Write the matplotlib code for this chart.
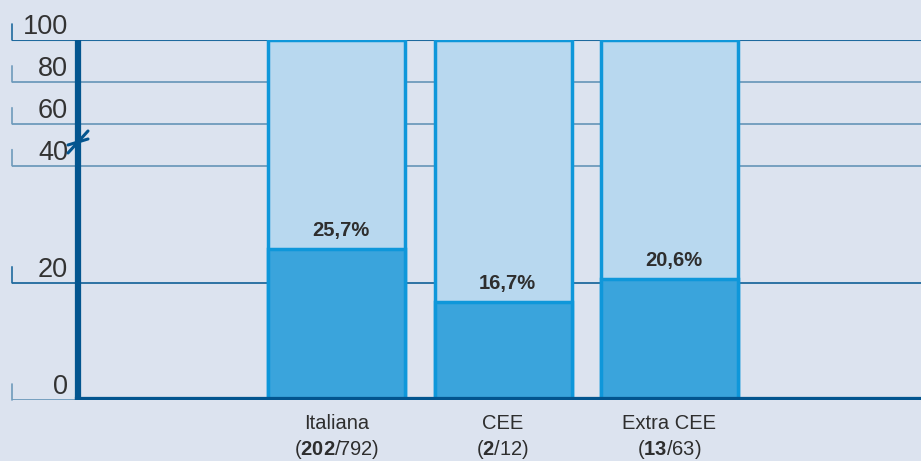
import numpy as np
import matplotlib
matplotlib.use("Agg")
import matplotlib.pyplot as plt

# --- data ---
categories = ["Italiana", "CEE", "Extra CEE"]
numerators = [202, 2, 13]
denominators = [792, 12, 63]
percent = [25.7, 16.7, 20.6]
pct_labels = ["25,7%", "16,7%", "20,6%"]
y_ticks = [0, 20, 40, 60, 80, 100]

BG = "#dce3ef"
LIGHT = "#b8d8ef"
DARK = "#3aa4dc"
EDGE = "#0e97da"
AXIS = "#03558f"
GRID = "#6e9abb"
GRID_DARK = "#1f6a9e"
TEXT = "#2e2e2e"

plt.rcParams["font.family"] = ["Liberation Sans", "DejaVu Sans"]
plt.rcParams["mathtext.fontset"] = "custom"
plt.rcParams["mathtext.rm"] = "Liberation Sans"
plt.rcParams["mathtext.bf"] = "Liberation Sans:bold"

# broken axis: 0-40 linear, 40-100 compressed
BREAK = 40.0
SQUEEZE = 42.0 / 117.5


def fwd(y):
    y = np.asarray(y, dtype=float)
    return np.where(y <= BREAK, y, BREAK + (y - BREAK) * SQUEEZE)


def inv(y):
    y = np.asarray(y, dtype=float)
    return np.where(y <= BREAK, y, BREAK + (y - BREAK) / SQUEEZE)


W, H = 921, 461
fig = plt.figure(figsize=(W / 100, H / 100), dpi=100)
fig.patch.set_facecolor(BG)

# axes spans from the small tick marks (x=12) to the right edge
ax = fig.add_axes([12 / W, (H - 400) / H, (W - 12) / W, 360 / H])
ax.set_facecolor(BG)
ax.set_yscale("function", functions=(fwd, inv))
ax.set_ylim(0, 100)

step = 166.5
x0_px = 336.5
xs = np.arange(len(categories))
ax.set_xlim(-(x0_px - 12) / step, (W - x0_px) / step)
axis_x = (78 - x0_px) / step
bar_w = 137 / step

for s in ax.spines.values():
    s.set_visible(False)
ax.set_xticks([])
ax.set_yticks([])

# gridlines, starting at the left tick marks
xl = ax.get_xlim()
for v in y_ticks:
    col = GRID_DARK if v in (100, 20) else GRID
    ax.plot([xl[0], xl[1]], [v, v], color=col, lw=1.5 if v == 100 else 1.3,
            zorder=1, solid_capstyle="butt")
    # small upright tick at far left
    ax.annotate("", xy=(xl[0], v), xytext=(0, 16), textcoords="offset pixels",
                arrowprops=dict(arrowstyle="-", color=col, lw=1.2,
                                shrinkA=0, shrinkB=0), annotation_clip=False)
    ax.annotate(str(v), xy=(axis_x, v), xytext=(-10, 6), textcoords="offset pixels",
                ha="right", va="baseline", fontsize=19.5, color="#333333",
                annotation_clip=False)

# bars: full light column with dark lower part
ax.bar(xs, [100] * len(xs), width=bar_w, color=LIGHT, edgecolor=EDGE, lw=2.5, zorder=3)
ax.bar(xs, percent, width=bar_w, color=DARK, edgecolor=EDGE, lw=2.5, zorder=4)

for x, p, lab in zip(xs, percent, pct_labels):
    ax.annotate(lab, xy=(x, p), xytext=(4, 9), textcoords="offset pixels",
                ha="center", va="bottom", fontsize=14.5, fontweight="bold",
                color=TEXT, family=["Liberation Sans Narrow", "Liberation Sans"],
                zorder=6)

# thick axes lines
ax.plot([axis_x, axis_x], [0, 100], color=AXIS, lw=4.5, zorder=5,
        solid_capstyle="butt")
ax.plot([axis_x, xl[1]], [0, 0], color=AXIS, lw=4.5, zorder=5,
        solid_capstyle="projecting")

# axis break marks: two short parallel strokes across the y axis
brk_y = 51.3
for off in (-4, 4):
    ax.annotate("", xy=(axis_x, brk_y), xytext=(-10, -7 + off),
                textcoords="offset pixels", annotation_clip=False,
                arrowprops=dict(arrowstyle="-", color=AXIS, lw=2.2,
                                shrinkA=0, shrinkB=0))
    ax.annotate("", xy=(axis_x, brk_y), xytext=(10, 7 + off),
                textcoords="offset pixels", annotation_clip=False,
                arrowprops=dict(arrowstyle="-", color=AXIS, lw=2.2,
                                shrinkA=0, shrinkB=0))

# category labels under the axis
for x, cat, n, d in zip(xs, categories, numerators, denominators):
    ax.annotate(cat, xy=(x, 0), xytext=(0, -23), textcoords="offset pixels",
                ha="center", va="center", fontsize=14.5, color=TEXT,
                annotation_clip=False)
    ax.annotate(rf"($\mathbf{{{n}}}$/{d})", xy=(x, 0), xytext=(0, -49),
                textcoords="offset pixels", ha="center", va="center",
                fontsize=14.5, color=TEXT, annotation_clip=False)

fig.savefig("out.png", dpi=100, facecolor=BG)
